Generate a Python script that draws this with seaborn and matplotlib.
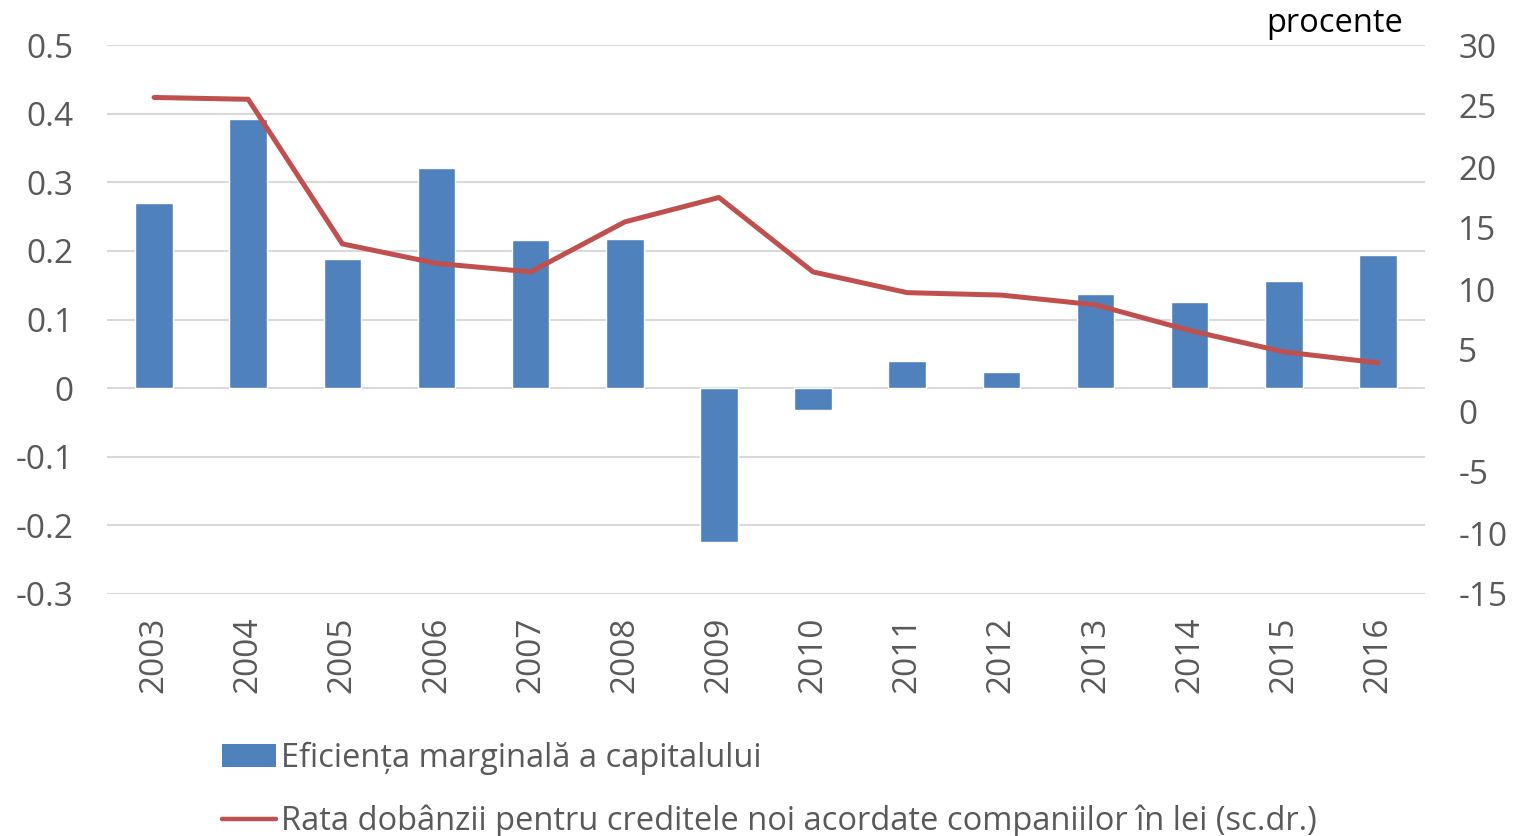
import matplotlib
matplotlib.use("Agg")
import matplotlib.pyplot as plt
from matplotlib.patches import Patch
from matplotlib.lines import Line2D
import numpy as np
import pandas as pd
import seaborn as sns

years = ["2003", "2004", "2005", "2006", "2007", "2008", "2009",
         "2010", "2011", "2012", "2013", "2014", "2015", "2016"]
efficiency = [0.270, 0.392, 0.188, 0.321, 0.216, 0.217, -0.224,
              -0.032, 0.039, 0.023, 0.137, 0.125, 0.156, 0.194]
interest_rate = [25.7, 25.55, 13.7, 12.1, 11.4, 15.5, 17.5,
                 11.4, 9.7, 9.5, 8.7, 6.6, 4.85, 3.95]

bar_label = "Eficiența marginală a capitalului"
line_label = "Rata dobânzii pentru creditele noi acordate companiilor în lei (sc.dr.)"
left_ticks = [-0.3, -0.2, -0.1, 0, 0.1, 0.2, 0.3, 0.4, 0.5]
left_tick_labels = ["-0.3", "-0.2", "-0.1", "0", "0.1", "0.2", "0.3", "0.4", "0.5"]
right_ticks = [-15, -10, -5, 0, 5, 10, 15, 20, 25, 30]

sns.set_theme(style="white")
plt.rcParams["font.family"] = ["Open Sans", "DejaVu Sans"]

BLUE = "#4F81BD"
RED = "#C0504D"
GREY = "#595959"
GRID = "#D9D9D9"

df = pd.DataFrame({"year": years, "eff": efficiency, "rate": interest_rate,
                   "pos": np.arange(len(years))})

fig = plt.figure(figsize=(15.23, 8.36), dpi=100)
ax = fig.add_axes([107 / 1523, 1 - 594 / 836, (1425 - 107) / 1523, (594 - 45) / 836])

sns.barplot(data=df, x="year", y="eff", color=BLUE, width=0.4, saturation=1,
            ax=ax, zorder=2)
ax.set_xlim(-0.5, len(years) - 0.5)
ax.set_ylim(-0.3, 0.5)
ax.set_yticks(left_ticks)
ax.set_yticklabels(left_tick_labels)
ax.yaxis.grid(True, color=GRID, linewidth=1.5, zorder=0)
ax.set_axisbelow(True)
for s in ax.spines.values():
    s.set_visible(False)
ax.set_xlabel("")
ax.set_ylabel("")
ax.tick_params(axis="y", length=0, pad=24, labelsize=24, labelcolor=GREY)
ax.tick_params(axis="x", length=0, pad=16, labelsize=24, labelcolor=GREY,
               labelrotation=90)

ax2 = ax.twinx()
sns.lineplot(data=df, x="pos", y="rate", color=RED, linewidth=3.6, ax=ax2,
             zorder=3)
ax2.set_ylim(-15, 30)
ax2.set_yticks(right_ticks)
ax2.set_yticklabels([str(t) for t in right_ticks])
ax2.set_xlim(-0.5, len(years) - 0.5)
for s in ax2.spines.values():
    s.set_visible(False)
ax2.set_ylabel("")
ax2.set_xlabel("")
ax2.grid(False)
ax2.tick_params(axis="y", length=0, pad=24, labelsize=24, labelcolor=GREY)

fig.text(1403 / 1523, 1 - 24 / 836, "procente", ha="right", va="center",
         fontsize=23.5, color="black")

handles = [Patch(facecolor=BLUE, edgecolor="none"),
           Line2D([], [], color=RED, linewidth=3.2)]
fig.legend(handles, [bar_label, line_label], loc="lower left",
           bbox_to_anchor=(209 / 1523, -0.018), frameon=False, fontsize=23.5,
           labelcolor=GREY, handlelength=1.65, handletextpad=0.15,
           labelspacing=0.9, borderaxespad=0)

fig.savefig("out.png", dpi=100)
